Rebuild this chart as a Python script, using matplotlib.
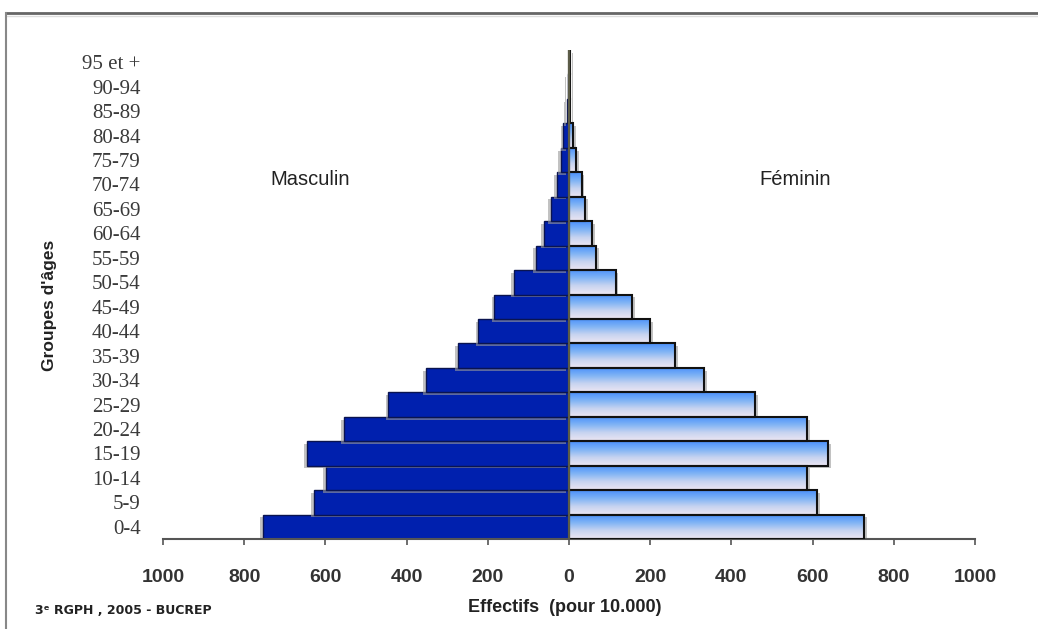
import numpy as np
import matplotlib
matplotlib.use("Agg")
import matplotlib.pyplot as plt
import matplotlib.patheffects as pe
from matplotlib.colors import LinearSegmentedColormap
from matplotlib.lines import Line2D

age_groups = ["0-4", "5-9", "10-14", "15-19", "20-24", "25-29", "30-34", "35-39",
              "40-44", "45-49", "50-54", "55-59", "60-64", "65-69", "70-74",
              "75-79", "80-84", "85-89", "90-94", "95 et +"]
masculin = [754, 628, 599, 646, 554, 445, 353, 274, 223, 184,
            135, 82, 62, 44, 30, 20, 14, 6, 3, 1]
feminin = [727, 611, 586, 638, 586, 458, 333, 261, 200, 156,
           115, 66, 57, 39, 31, 17, 11, 3, 2, 2]
x_ticks = [-1000, -800, -600, -400, -200, 0, 200, 400, 600, 800, 1000]

W, H = 1038, 629
fig = plt.figure(figsize=(W / 100, H / 100), dpi=100)
ax = fig.add_axes([163 / W, 1 - 539 / H, 812 / W, 489 / H])

y = np.arange(len(age_groups))

# hommes : bleu foncé, ombre à gauche
male_bars = ax.barh(y, [-v for v in masculin], height=1.0, color="#0020ae",
                    edgecolor="#0a1450", linewidth=1.0, zorder=2)
for b in male_bars:
    b.set_path_effects([pe.SimplePatchShadow(offset=(-2, -2), shadow_rgbFace="#9a9a9a", alpha=0.6),
                        pe.Normal()])

# femmes : dégradé bleu -> lavande
fem_cmap = LinearSegmentedColormap.from_list("fem", ["#4a90fb", "#7fb3f5", "#c8d4f0", "#ece6f3"])
grad = np.linspace(0, 1, 64).reshape(-1, 1)
fem_back = ax.barh(y, feminin, height=1.0, color="white", edgecolor="none", zorder=2)
for b in fem_back:
    b.set_path_effects([pe.SimplePatchShadow(offset=(2, -2), shadow_rgbFace="#9a9a9a", alpha=0.6),
                        pe.Normal()])
    x0, y0, w, h = b.get_x(), b.get_y(), b.get_width(), b.get_height()
    ax.imshow(grad, cmap=fem_cmap, aspect="auto", origin="upper",
              extent=(x0, x0 + w, y0, y0 + h), zorder=2.5, interpolation="bilinear")
ax.barh(y, feminin, height=1.0, color="none", edgecolor="#111111", linewidth=1.5, zorder=3)

ax.axvline(0, color="#5c5c48", linewidth=1.6, zorder=4)

ax.set_xlim(-1000, 1000)
ax.set_ylim(-0.5, len(age_groups) - 0.5)
ax.set_xticks(x_ticks)
ax.set_xticklabels([str(abs(t)) for t in x_ticks], fontsize=14, fontweight="bold",
                   family=["Liberation Sans Narrow", "Liberation Sans", "DejaVu Sans"], color="#333333")
ax.set_yticks(y)
ax.set_yticklabels(age_groups, fontsize=15, family=["Liberation Serif", "DejaVu Serif"], color="#3a3a3a")
ax.tick_params(axis="x", direction="out", length=4.5, width=1.2, color="#555555", pad=17)
ax.tick_params(axis="y", length=0, pad=16)

for side in ["top", "right", "left"]:
    ax.spines[side].set_visible(False)
ax.spines["bottom"].set_color("#555555")
ax.spines["bottom"].set_linewidth(1.5)

sans = ["Liberation Sans", "DejaVu Sans"]
fig.text(310 / W, 1 - 180 / H, "Masculin", ha="center", va="center", fontsize=14.5, family=sans, color="#222222")
fig.text(795 / W, 1 - 180 / H, "Féminin", ha="center", va="center", fontsize=14.5, family=sans, color="#222222")
fig.text(565 / W, 1 - 608 / H, "Effectifs  (pour 10.000)", ha="center", va="center",
         fontsize=13, fontweight="bold", family=sans, color="#222222")
fig.text(50 / W, 1 - 305 / H, "Groupes d'âges", ha="center", va="center", rotation=90,
         fontsize=12.5, fontweight="bold", family=sans, color="#222222")
fig.text(35 / W, 1 - 610 / H, "3ᵉ RGPH , 2005 - BUCREP", ha="left", va="center",
         fontsize=9, fontweight="bold", family=["DejaVu Sans"], color="#222222")

# cadre autour du graphique
fig.add_artist(Line2D([6 / W, 1], [1 - 13 / H, 1 - 13 / H], transform=fig.transFigure,
                      color="#666666", linewidth=2))
fig.add_artist(Line2D([6 / W, 1], [1 - 15.5 / H, 1 - 15.5 / H], transform=fig.transFigure,
                      color="#dddddd", linewidth=1))
fig.add_artist(Line2D([6 / W, 6 / W], [0, 1 - 13 / H], transform=fig.transFigure,
                      color="#888888", linewidth=1.5))

fig.savefig("out.png", dpi=100)
